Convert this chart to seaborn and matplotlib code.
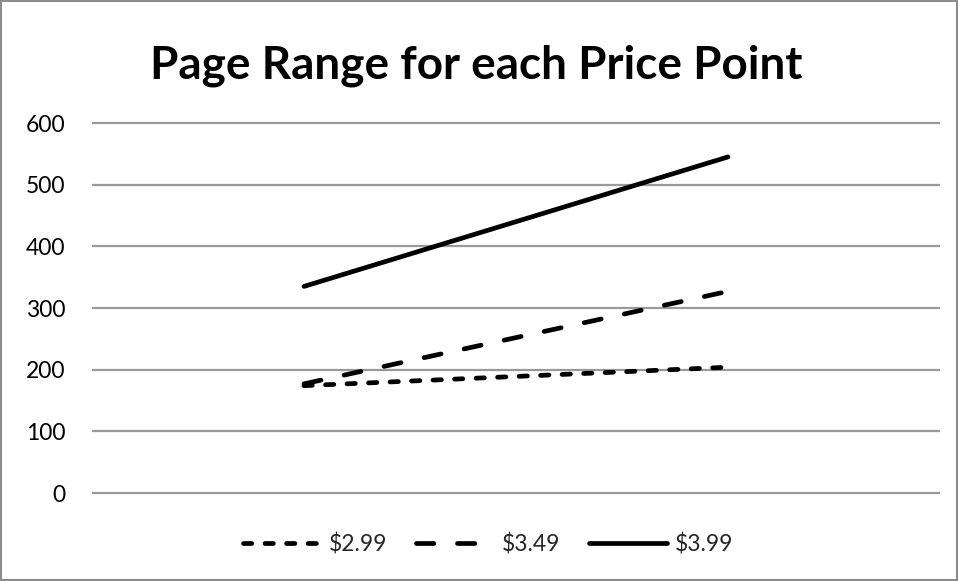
import matplotlib
matplotlib.use("Agg")
import matplotlib.pyplot as plt
import seaborn as sns
import pandas as pd
from matplotlib.patches import Rectangle

# values
categories = ["A", "B"]
series_names = ["$2.99", "$3.49", "$3.99"]
price_299 = [174, 204]
price_349 = [177, 327]
price_399 = [335, 545]
y_ticks = [0, 100, 200, 300, 400, 500, 600]

rows = []
for name, vals in zip(series_names, [price_299, price_349, price_399]):
    for cat, v in zip(categories, vals):
        rows.append({"Category": cat, "Pages": v, "Price": name})
df = pd.DataFrame(rows)

sns.set_theme(style="white")
plt.rcParams["font.family"] = ["Lato", "DejaVu Sans"]
plt.rcParams["lines.scale_dashes"] = False

W, H = 958, 581
fig = plt.figure(figsize=(W / 100, H / 100), dpi=100)
# plot area in pixels: x 92..940, y 123..493 (600..0)
pad = 3
px_per_unit = (493 - 123) / 600
y0 = 493 + pad * px_per_unit
y1 = 123 - pad * px_per_unit
ax = fig.add_axes([92 / W, 1 - y0 / H, (940 - 92) / W, (y0 - y1) / H])

styles = {
    "$2.99": (0, (6, 9.5)),
    "$3.49": (0, (12.5, 17)),
    "$3.99": "-",
}
x_pos = {c: i for i, c in enumerate(categories)}
df["x"] = df["Category"].map(x_pos)

for name in series_names:
    sub = df[df["Price"] == name]
    sns.lineplot(data=sub, x="x", y="Pages", ax=ax, color="black",
                 linewidth=3.4, linestyle=styles[name], label=name,
                 dash_capstyle="round", solid_capstyle="round")

ax.set_xlim(-0.5, 1.5)
ax.set_ylim(-pad, 600 + pad)
ax.set_yticks(y_ticks)
ax.set_xticks([])
ax.set_xlabel("")
ax.set_ylabel("")
for s in ax.spines.values():
    s.set_visible(False)
for t in y_ticks:
    ax.axhline(t, color="#9a9a9a", linewidth=1.6, zorder=0)
ax.tick_params(axis="y", length=0, pad=19, labelsize=16.5, labelcolor="black")

leg = ax.legend(loc="center", bbox_to_anchor=(488 / W, (H - 544) / H), bbox_transform=fig.transFigure,
                ncol=3, frameon=False, fontsize=16.5, handlelength=3.4,
                columnspacing=1.25, handletextpad=0.35)
for line in leg.get_lines():
    line.set_linewidth(3.4)

fig.text(476 / W, 1 - 66 / H, "Page Range for each Price Point", ha="center", va="center",
         fontsize=33, fontweight="bold", color="black")

fig.patches.append(Rectangle((1 / W, 1 / H), (W - 2) / W, (H - 2) / H, transform=fig.transFigure,
                             fill=False, edgecolor="#8c8c8c", linewidth=1.5))

fig.savefig("out.png", dpi=100)
